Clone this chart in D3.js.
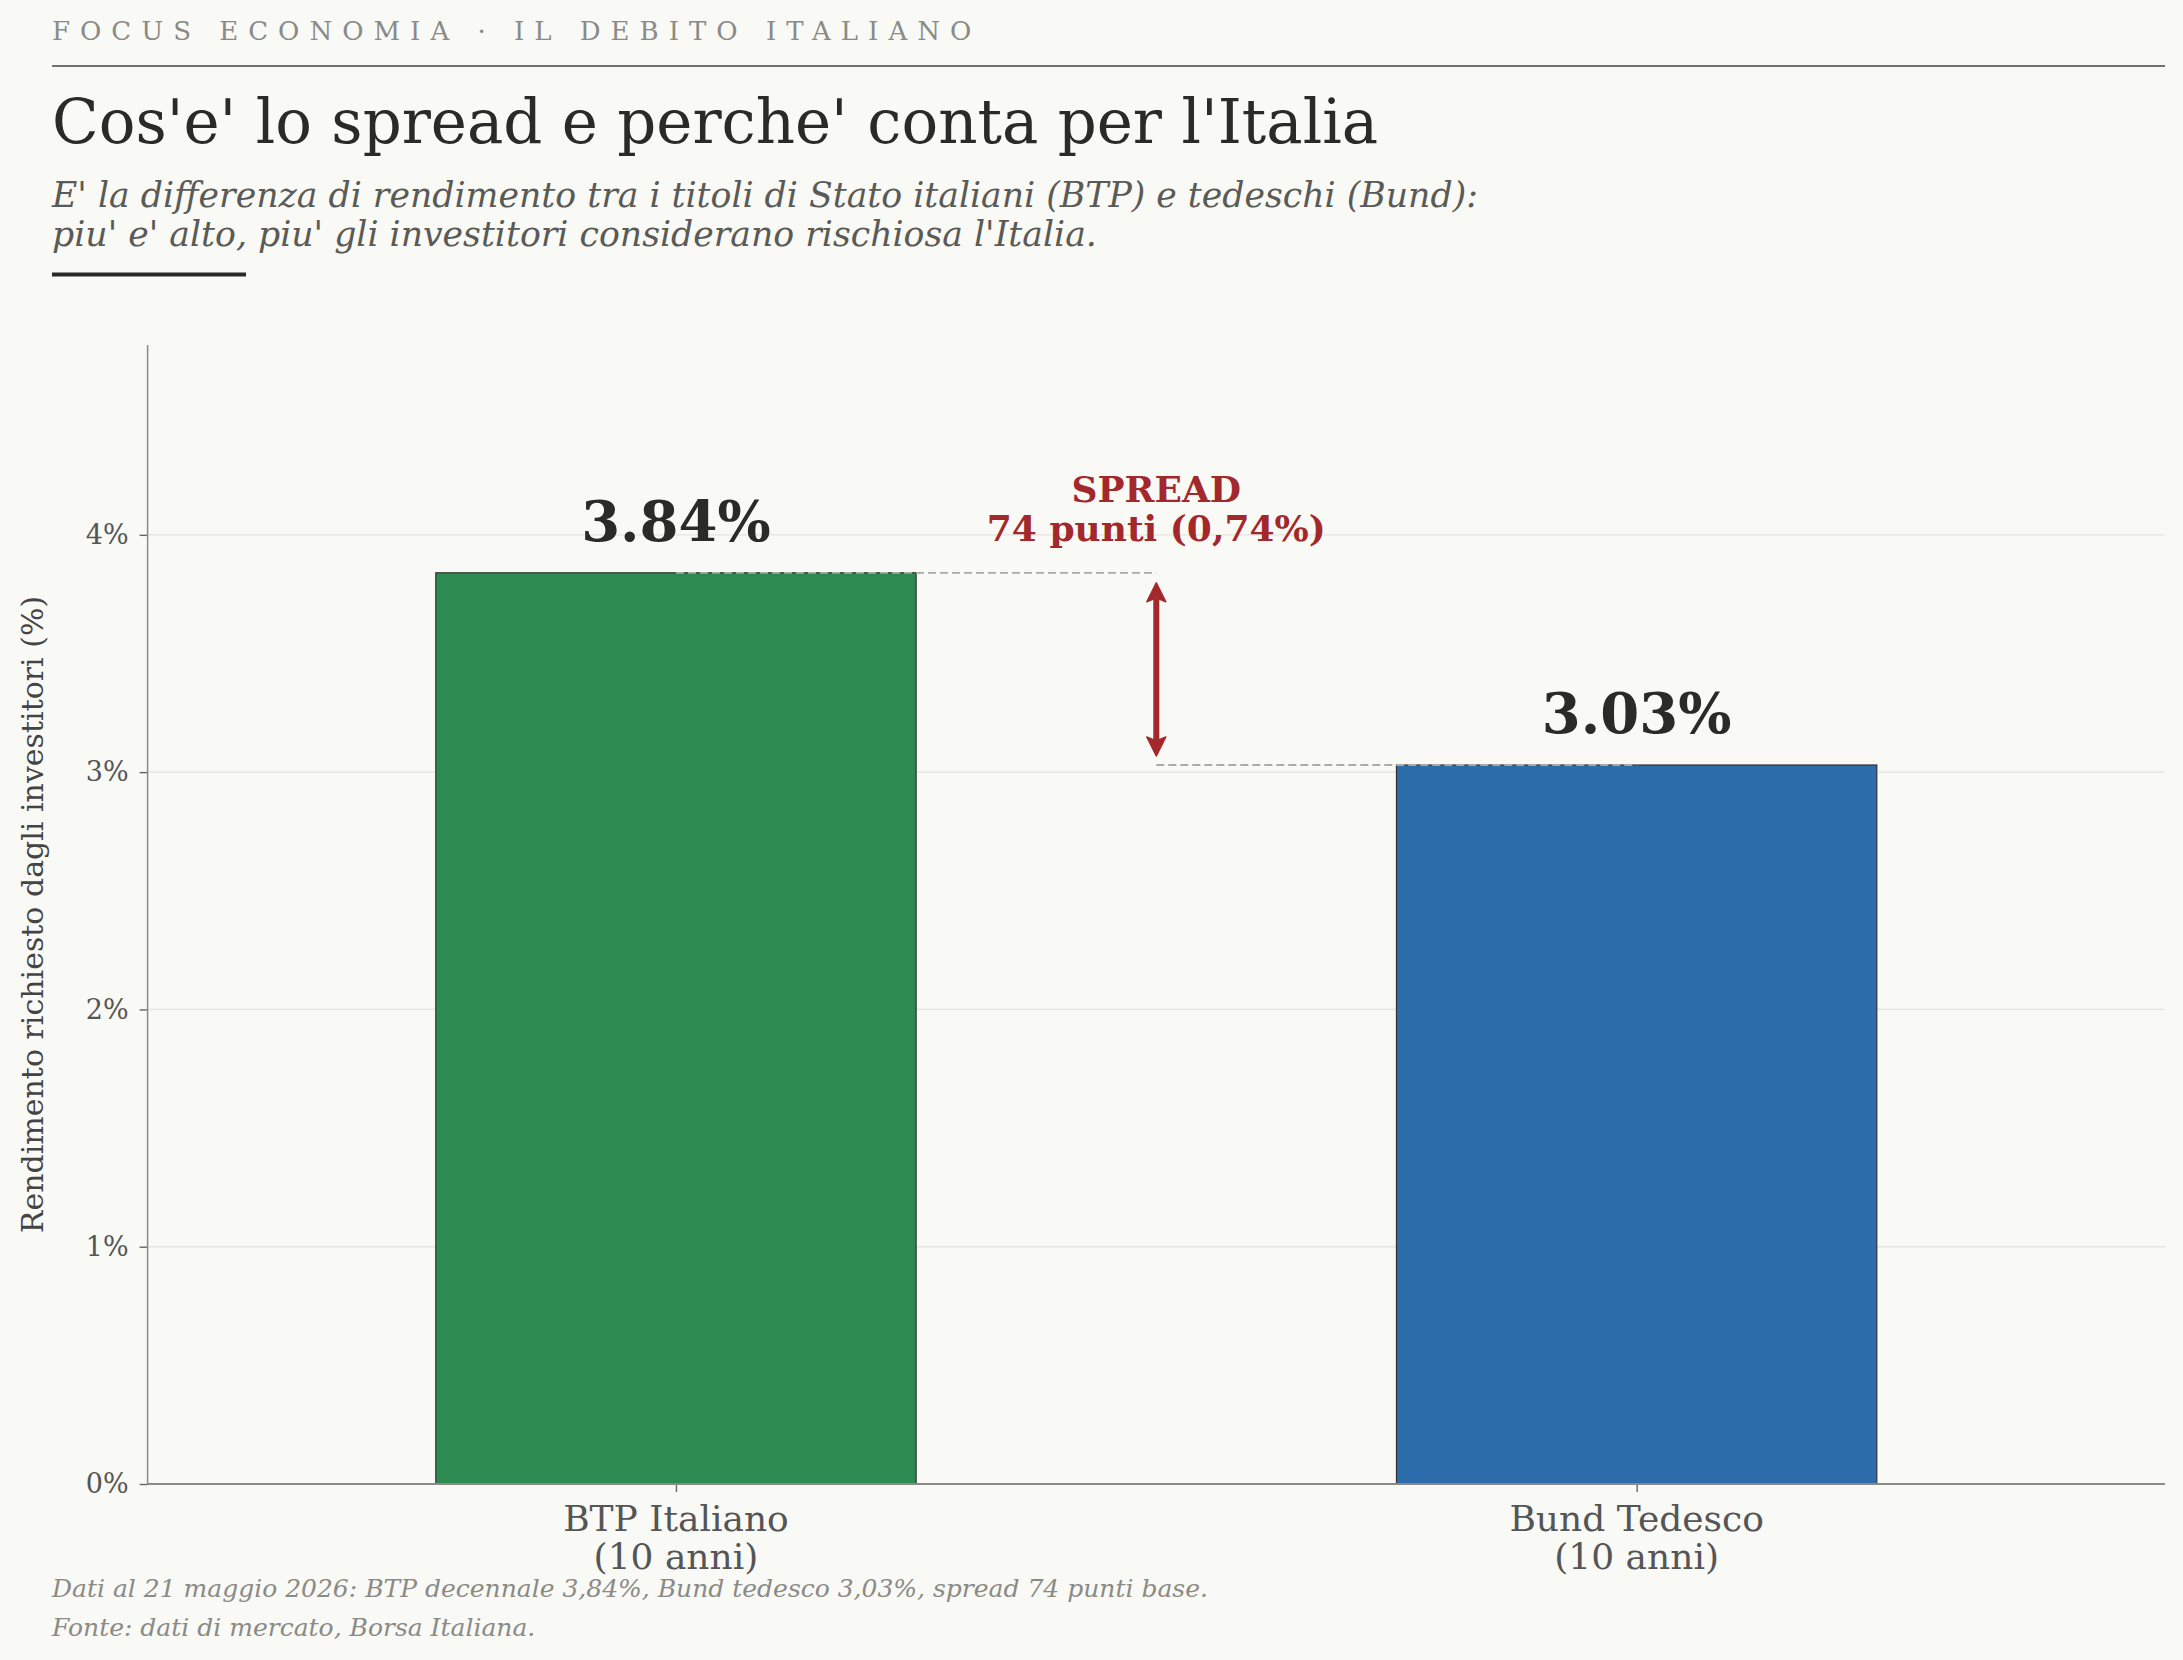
<!DOCTYPE html>
<html><head><meta charset="utf-8">
<script src="https://cdn.jsdelivr.net/npm/d3@7"></script>
<style>
body{margin:0;background:#f9f9f5;}
svg{display:block;font-family:"DejaVu Serif",serif;}
</style>
</head><body>
<svg id="c" width="2183" height="1660"></svg>
<script>
// ---- data ----
const categories = ["BTP Italiano", "Bund Tedesco"];
const categorySub = ["(10 anni)", "(10 anni)"];
const values = [3.84, 3.03];
const valueLabels = ["3.84%", "3.03%"];
const barColors = ["#2d8b52", "#2e6dab"];
const yTicks = [0, 1, 2, 3, 4];
const spreadLines = ["SPREAD", "74 punti (0,74%)"];
const kicker = "FOCUS ECONOMIA · IL DEBITO ITALIANO";
const title = "Cos'e' lo spread e perche' conta per l'Italia";
const subtitle = ["E' la differenza di rendimento tra i titoli di Stato italiani (BTP) e tedeschi (Bund):",
                  "piu' e' alto, piu' gli investitori considerano rischiosa l'Italia."];
const yLabel = "Rendimento richiesto dagli investitori (%)";
const footer = ["Dati al 21 maggio 2026: BTP decennale 3,84%, Bund tedesco 3,03%, spread 74 punti base.",
                "Fonte: dati di mercato, Borsa Italiana."];

const svg = d3.select("#c");
svg.append("rect").attr("width",2183).attr("height",1660).attr("fill","#f9f9f5");

// ---- header ----
svg.append("text").attr("x",52).attr("y",40).attr("font-size",26).attr("fill","#8a8a86")
  .attr("letter-spacing","10px").text(kicker);
svg.append("line").attr("x1",52).attr("x2",2165).attr("y1",66).attr("y2",66)
  .attr("stroke","#444").attr("stroke-width",1.5);
svg.append("text").attr("x",52).attr("y",143).attr("font-size",61).attr("fill","#2a2a28").text(title);
svg.selectAll("text.sub").data(subtitle).join("text").attr("class","sub")
  .attr("x",52).attr("y",(d,i)=>207+i*38.7).attr("font-size",34.7).attr("font-style","italic")
  .attr("fill","#5a5a56").text(d=>d);
svg.append("rect").attr("x",52).attr("y",272.5).attr("width",194).attr("height",4).attr("fill","#2a2a28");

// ---- scales ----
const L=147.6, R=2165, T=345, B=1484;
const x = d3.scaleLinear().domain([-0.55, 1.55]).range([L, R]);
const y = d3.scaleLinear().domain([0, 4.8]).range([B, T]);
const bw = x(0.5)-x(0);

// grid
svg.append("g").selectAll("line").data(yTicks.filter(d=>d>0)).join("line")
  .attr("x1",L).attr("x2",R).attr("y1",d=>y(d)).attr("y2",d=>y(d))
  .attr("stroke","#e4e4e0").attr("stroke-width",1.4);

// bars
svg.append("g").selectAll("rect").data(values).join("rect")
  .attr("x",(d,i)=>x(i)-bw/2).attr("width",bw)
  .attr("y",d=>y(d)).attr("height",d=>y(0)-y(d))
  .attr("fill",(d,i)=>barColors[i]).attr("stroke","#333").attr("stroke-width",1.2);

// dashed reference lines
svg.append("line").attr("x1",x(0)).attr("x2",x(0.5)).attr("y1",y(values[0])).attr("y2",y(values[0]))
  .attr("stroke","#aaaaa6").attr("stroke-width",1.8).attr("stroke-dasharray","8,4");
svg.append("line").attr("x1",x(0.5)).attr("x2",x(1)).attr("y1",y(values[1])).attr("y2",y(values[1]))
  .attr("stroke","#aaaaa6").attr("stroke-width",1.8).attr("stroke-dasharray","8,4");

// value labels
svg.selectAll("text.val").data(values).join("text").attr("class","val")
  .attr("x",(d,i)=>x(i)).attr("y",d=>y(d)-32).attr("text-anchor","middle")
  .attr("font-size",56).attr("font-weight","bold").attr("fill","#2a2a28")
  .text((d,i)=>valueLabels[i]);

// spread arrow
const red="#a3282c";
const ax=x(0.5), ay1=y(values[0])+10, ay2=y(values[1])-9;
const hl=19, hw=9.5;
svg.append("line").attr("x1",ax).attr("x2",ax).attr("y1",ay1+hl-3).attr("y2",ay2-hl+3)
  .attr("stroke",red).attr("stroke-width",6);
svg.append("path").attr("fill",red).attr("stroke",red).attr("stroke-width",1.5).attr("stroke-linejoin","round")
  .attr("d",`M${ax},${ay1} L${ax+hw},${ay1+hl} L${ax},${ay1+hl-4} L${ax-hw},${ay1+hl} Z`);
svg.append("path").attr("fill",red).attr("stroke",red).attr("stroke-width",1.5).attr("stroke-linejoin","round")
  .attr("d",`M${ax},${ay2} L${ax+hw},${ay2-hl} L${ax},${ay2-hl+4} L${ax-hw},${ay2-hl} Z`);
svg.selectAll("text.spr").data(spreadLines).join("text").attr("class","spr")
  .attr("x",ax).attr("y",(d,i)=>y(values[0])-32-(1-i)*38.5).attr("text-anchor","middle")
  .attr("font-size",36).attr("font-weight","bold").attr("fill",red).text(d=>d);

// y axis
const yAxis = svg.append("g").attr("transform",`translate(${L},0)`)
  .call(d3.axisLeft(y).tickValues(yTicks).tickFormat(d=>d+"%").tickSize(8).tickPadding(11));
yAxis.select(".domain").remove();
yAxis.selectAll(".tick line").attr("stroke","#666").attr("stroke-width",1.4);
yAxis.selectAll(".tick text").attr("font-family","DejaVu Serif").attr("font-size",27).attr("fill","#555");

// x axis
const xAxis = svg.append("g").attr("transform",`translate(0,${B})`)
  .call(d3.axisBottom(x).tickValues([0,1]).tickFormat("").tickSize(8));
xAxis.select(".domain").remove();
xAxis.selectAll(".tick line").attr("stroke","#666").attr("stroke-width",1.4);
const xl = svg.selectAll("text.xl").data(categories).join("text").attr("class","xl")
  .attr("text-anchor","middle").attr("font-size",36).attr("fill","#555");
xl.append("tspan").attr("x",(d,i)=>x(i)).attr("y",1531).text(d=>d);
xl.append("tspan").attr("x",(d,i)=>x(i)).attr("y",1569).text((d,i)=>categorySub[i]);

// spines
svg.append("line").attr("x1",L).attr("x2",L).attr("y1",T).attr("y2",B).attr("stroke","#8a8a86").attr("stroke-width",1.5);
svg.append("line").attr("x1",L).attr("x2",R).attr("y1",B).attr("y2",B).attr("stroke","#8a8a86").attr("stroke-width",1.8);

// y label
svg.append("text").attr("transform",`translate(43,${(T+B)/2}) rotate(-90)`)
  .attr("text-anchor","middle").attr("font-size",30).attr("fill","#444").text(yLabel);

// footer
svg.selectAll("text.ft").data(footer).join("text").attr("class","ft")
  .attr("x",52).attr("y",(d,i)=>1597+i*39).attr("font-size",25).attr("font-style","italic")
  .attr("fill","#8a8a86").text(d=>d);
</script>
</body></html>
